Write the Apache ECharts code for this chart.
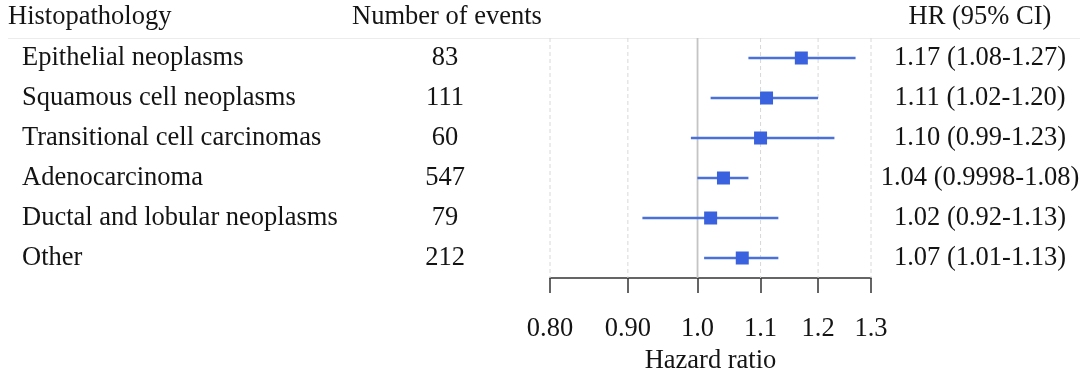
<!DOCTYPE html>
<html>
<head>
<meta charset="utf-8">
<script src="https://cdn.jsdelivr.net/npm/echarts@6/dist/echarts.min.js"></script>
<style>html,body{margin:0;padding:0;background:#fff}#c{width:1086px;height:372px}</style>
</head>
<body>
<div id="c"></div>
<script>
const categories = ["Epithelial neoplasms","Squamous cell neoplasms","Transitional cell carcinomas","Adenocarcinoma","Ductal and lobular neoplasms","Other"];
const events = ["83","111","60","547","79","212"];
const hr = [1.17, 1.11, 1.10, 1.04, 1.02, 1.07];
const lower = [1.08, 1.02, 0.99, 0.9998, 0.92, 1.01];
const upper = [1.27, 1.20, 1.23, 1.08, 1.13, 1.13];
const hrText = ["1.17 (1.08-1.27)","1.11 (1.02-1.20)","1.10 (0.99-1.23)","1.04 (0.9998-1.08)","1.02 (0.92-1.13)","1.07 (1.01-1.13)"];
const tickValues = [0.80, 0.90, 1.0, 1.1, 1.2, 1.3];
const tickLabels = ["0.80","0.90","1.0","1.1","1.2","1.3"];

const FONT = "'Liberation Serif','Times New Roman',serif";
const FS = 26.5;
const TXT = '#141414';
const L = Math.log;
const tickLn = tickValues.map(L);

const chart = echarts.init(document.getElementById('c'), null, {renderer:'canvas'});
const hiddenAxis = {axisLine:{show:false}, axisTick:{show:false}, splitLine:{show:false}};
chart.setOption({
  animation:false,
  backgroundColor:'#fff',
  textStyle:{fontFamily:FONT},
  graphic:[
    {type:'text', left:8, top:4, style:{text:'Histopathology', font:`${FS}px ${FONT}`, fill:TXT}},
    {type:'text', x:447, y:4, style:{text:'Number of events', font:`${FS}px ${FONT}`, fill:TXT, align:'center'}},
    {type:'text', x:980, y:4, style:{text:'HR (95% CI)', font:`${FS}px ${FONT}`, fill:TXT, align:'center'}},
    {type:'line', shape:{x1:8,y1:38.5,x2:1080,y2:38.5}, style:{stroke:'#ececec', lineWidth:1}}
  ],
  grid:{left:550, right:215, top:38, bottom:94, containLabel:false, outerBoundsMode:'none'},
  xAxis:{
    type:'value', min:L(0.8), max:L(1.3),
    axisLine:{show:true, lineStyle:{color:'#333', width:1.5}},
    axisTick:{show:true, customValues:tickLn, length:15, lineStyle:{color:'#333', width:1.5}},
    axisLabel:{show:true, customValues:tickLn, margin:38, fontSize:FS, fontFamily:FONT, color:TXT,
      formatter:function(v){let b=0;for(let i=1;i<tickLn.length;i++){if(Math.abs(tickLn[i]-v)<Math.abs(tickLn[b]-v))b=i;}return tickLabels[b];}},
    splitLine:{show:false},
    name:'Hazard ratio', nameLocation:'middle', nameGap:66,
    nameTextStyle:{fontSize:FS, fontFamily:FONT, color:TXT}
  },
  yAxis:[
    Object.assign({type:'category', data:categories, inverse:true, position:'left',
      axisLabel:{align:'left', margin:528, fontSize:FS, fontFamily:FONT, color:TXT}}, hiddenAxis),
    Object.assign({type:'category', data:events, inverse:true, position:'left',
      axisLabel:{align:'center', margin:105, fontSize:FS, fontFamily:FONT, color:TXT}}, hiddenAxis),
    Object.assign({type:'category', data:hrText, inverse:true, position:'right',
      axisLabel:{align:'center', margin:109, fontSize:FS, fontFamily:FONT, color:TXT}}, hiddenAxis)
  ],
  series:[
    {
      type:'custom', xAxisIndex:0, yAxisIndex:0, z:1, silent:true,
      data: tickValues.map(v=>[L(v)]),
      renderItem:function(params, api){
        const cs = params.coordSys;
        const x = api.coord([api.value(0), 0])[0];
        const isRef = Math.abs(api.value(0)) < 1e-9;
        return {type:'line', shape:{x1:x,y1:cs.y,x2:x,y2:cs.y+cs.height},
          style: isRef ? {stroke:'#c4c4c4', lineWidth:1.8} : {stroke:'#d8d8d8', lineWidth:1, lineDash:[4,3]}};
      }
    },
    {
      type:'custom', xAxisIndex:0, yAxisIndex:0, z:2,
      data: categories.map((c,i)=>[L(lower[i]), i, L(upper[i])]),
      renderItem:function(params, api){
        const a = api.coord([api.value(0), api.value(1)]);
        const b = api.coord([api.value(2), api.value(1)]);
        return {type:'line', shape:{x1:a[0],y1:a[1],x2:b[0],y2:b[1]}, style:{stroke:'#4a70d9', lineWidth:2.4}};
      }
    },
    {
      type:'scatter', xAxisIndex:0, yAxisIndex:0, z:3, symbol:'rect', symbolSize:13,
      itemStyle:{color:'#3a62df', opacity:1},
      data: hr.map((v,i)=>[L(v), i])
    }
  ]
});
</script>
</body>
</html>
